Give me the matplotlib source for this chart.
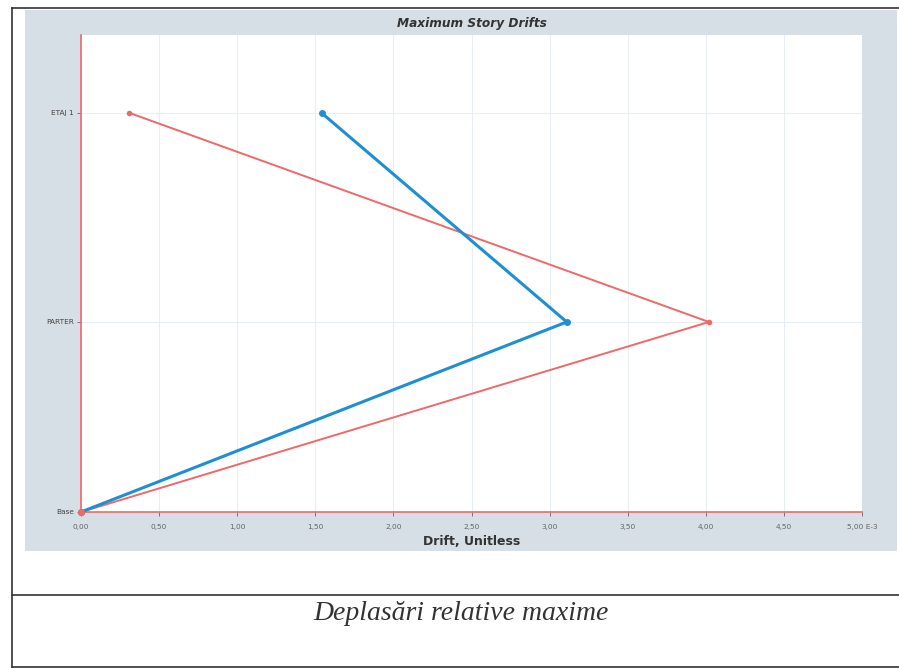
"""Maximum story drifts chart with a caption box underneath."""

import matplotlib

matplotlib.use("Agg")
import matplotlib.pyplot as plt
from matplotlib.patches import Rectangle
from matplotlib.lines import Line2D

stories = ["Base", "PARTER", "ETAJ 1"]
elevations = [0.0, 3.0, 6.3]
drift_red = [0.0, 4.02, 0.31]   # E-3
drift_blue = [0.0, 3.11, 1.54]  # E-3
x_ticks = [0.0, 0.5, 1.0, 1.5, 2.0, 2.5, 3.0, 3.5, 4.0, 4.5, 5.0]
x_labels = ["0,00", "0,50", "1,00", "1,50", "2,00", "2,50",
            "3,00", "3,50", "4,00", "4,50", "5,00 E-3"]

W, H = 899, 669
RED = "#f06868"
BLUE = "#1d8fd2"
PANEL = "#d6dee6"


def fx(px):
    return px / W


def fy(py):
    return 1 - py / H


fig = plt.figure(figsize=(W / 100, H / 100), dpi=100)
fig.patch.set_facecolor("white")

# outer panel (gray-blue) behind the plot
fig.patches.append(Rectangle((fx(25), fy(551)), fx(897) - fx(25), fy(10) - fy(551),
                             transform=fig.transFigure, facecolor=PANEL,
                             edgecolor="none", zorder=-5))
# black frame lines
for x0, y0, x1, y1 in [(12, 8, 899, 8), (12, 8, 12, 667), (12, 595, 899, 595),
                       (12, 667, 899, 667)]:
    fig.lines.append(Line2D([fx(x0), fx(x1)], [fy(y0), fy(y1)],
                            transform=fig.transFigure, color="#333333", lw=1.2))

ax = fig.add_axes([fx(81), fy(512), fx(862) - fx(81), fy(35) - fy(512)])
ax.set_zorder(1)
ax.set_facecolor("white")

ax.plot(drift_red, elevations, color=RED, lw=1.4, marker="o", ms=4,
        markeredgewidth=0, zorder=3, clip_on=False)
ax.plot(drift_blue, elevations, color=BLUE, lw=2.2, marker="o", ms=5,
        markeredgewidth=0, zorder=4, clip_on=False)
# red base point sits on top of the blue one
ax.plot(drift_red[:1], elevations[:1], color=RED, marker="o", ms=5,
        markeredgewidth=0, zorder=5, clip_on=False)

ax.set_xlim(0, 5.0)
ax.set_ylim(0, 7.53)
ax.set_xticks(x_ticks)
ax.set_xticklabels(x_labels)
ax.set_yticks(elevations)
ax.set_yticklabels(stories)
ax.grid(True, color="#e8eef4", lw=0.8)
ax.set_axisbelow(True)

for side in ["top", "right"]:
    ax.spines[side].set_visible(False)
for side in ["left", "bottom"]:
    ax.spines[side].set_color(RED)
    ax.spines[side].set_linewidth(1.2)

ax.tick_params(axis="both", labelsize=5.3, colors="#666666", length=3,
               width=0.6)
ax.tick_params(axis="x", pad=6)
ax.tick_params(axis="y", pad=2, labelcolor="#444444")

ax.set_title("Maximum Story Drifts", fontsize=8.7, fontweight="bold",
             fontstyle="italic", color="#333333", pad=6)
ax.set_xlabel("Drift, Unitless", fontsize=9, fontweight="bold",
              color="#333333", labelpad=3)

fig.text(fx(461), fy(613), "Deplasări relative maxime", ha="center",
         va="center", fontsize=20, fontstyle="italic",
         family="Liberation Serif", color="#333333")

fig.savefig("out.png", dpi=100)
